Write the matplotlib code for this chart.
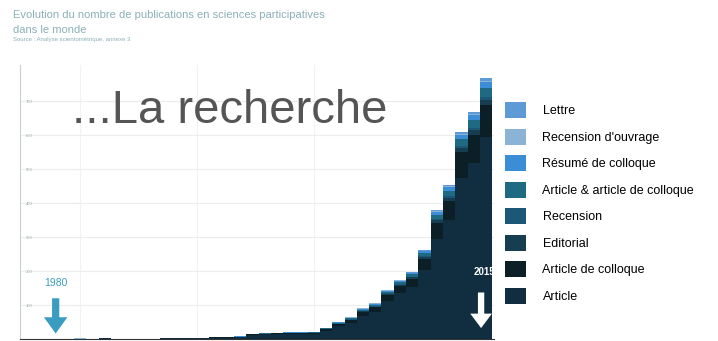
import matplotlib
matplotlib.use('Agg')
import numpy as np
import matplotlib.pyplot as plt
from matplotlib import font_manager

# --- Data ---
years = list(range(1977, 2016))

article = [0, 0, 0, 0, 1, 1, 0, 2, 1, 0,
           0, 1, 2, 3, 2, 3, 4, 4, 6, 12,
           14, 14, 15, 15, 16, 25, 37, 48, 68, 80,
           112, 136, 153, 203, 295, 350, 475, 519, 594]
article_colloque = [0, 0, 0, 0, 0, 0, 0, 0, 0, 0,
                    1, 0, 0, 0, 1, 1, 1, 1, 1, 2,
                    2, 3, 3, 3, 3, 4, 6, 8, 11, 13,
                    17, 21, 24, 32, 46, 56, 75, 82, 95]
editorial = [0, 0, 0, 0, 0, 0, 0, 0, 0, 0,
             0, 0, 0, 0, 0, 0, 0, 0, 0, 0,
             0, 0, 0, 0, 0, 1, 1, 1, 2, 2,
             3, 3, 4, 5, 8, 9, 12, 13, 15]
recension = [0, 0, 0, 0, 0, 0, 0, 0, 0, 0,
             0, 0, 0, 0, 0, 0, 0, 0, 0, 0,
             0, 0, 0, 0, 0, 0, 1, 1, 1, 1,
             2, 2, 2, 3, 4, 5, 6, 7, 8]
article_et_colloque = [0, 0, 0, 0, 0, 0, 0, 0, 0, 0,
                       0, 0, 0, 0, 0, 0, 0, 0, 0, 1,
                       1, 1, 1, 1, 1, 1, 2, 3, 4, 5,
                       5, 6, 7, 9, 13, 16, 20, 22, 26]
resume_colloque = [0, 0, 0, 0, 0, 0, 0, 0, 0, 0,
                   0, 0, 0, 0, 0, 0, 0, 0, 1, 1,
                   1, 1, 1, 1, 1, 1, 2, 2, 3, 3,
                   3, 4, 4, 6, 8, 10, 13, 15, 18]
recension_ouvrage = [0, 0, 0, 0, 0, 1, 0, 0, 0, 0,
                     0, 0, 0, 0, 0, 0, 0, 0, 0, 0,
                     0, 0, 0, 0, 0, 0, 0, 1, 1, 1,
                     1, 1, 1, 2, 2, 3, 3, 4, 4]
lettre = [0, 0, 0, 0, 0, 0, 0, 0, 0, 0,
          0, 0, 0, 0, 0, 0, 0, 0, 0, 0,
          0, 0, 0, 0, 0, 0, 1, 1, 1, 1,
          1, 1, 2, 2, 3, 4, 5, 6, 8]

# stacking order, bottom to top
series = [
    ("Article", article, "#112e40"),
    ("Article de colloque", article_colloque, "#0c1f27"),
    ("Editorial", editorial, "#173e50"),
    ("Recension", recension, "#1b5878"),
    ("Article & article de colloque", article_et_colloque, "#1e6a82"),
    ("Résumé de colloque", resume_colloque, "#3b8ed6"),
    ("Recension d'ouvrage", recension_ouvrage, "#8bb3d6"),
    ("Lettre", lettre, "#5e9bd6"),
]

y_ticks = [100, 200, 300, 400, 500, 600, 700]

plt.rcParams['font.family'] = ['Liberation Sans', 'DejaVu Sans']

try:
    font_manager.findfont('Liberation Sans Narrow', fallback_to_default=False)
    leg_family, leg_size = 'Liberation Sans Narrow', 11.5
except ValueError:
    leg_family, leg_size = 'Liberation Sans', 9

fig = plt.figure(figsize=(7.18, 3.41), dpi=100)
ax = fig.add_axes([20 / 718, 2 / 341, 474 / 718, 274 / 341])

bottom = np.zeros(len(years))
handles = []
for name, vals, col in series:
    b = ax.bar(years, vals, width=1.0, bottom=bottom, color=col,
               edgecolor='none', label=name, zorder=3)
    handles.append(b)
    bottom += np.array(vals)

ax.set_xlim(1977.1, 2015.65)
ax.set_ylim(0, 806)
ax.set_yticks(y_ticks)
ax.set_yticklabels([str(v) for v in y_ticks])
ax.tick_params(axis='y', length=0, pad=-9, labelsize=3, colors='#9aa6ad')
ax.set_xticks([])
ax.grid(axis='y', color='#ececec', lw=0.8, zorder=0)
for xv in [1982, 1991.5, 2001]:
    ax.axvline(xv, color='#f2f2f2', lw=0.8, zorder=0)
for s in ['top', 'right']:
    ax.spines[s].set_visible(False)
ax.spines['left'].set_color('#c8cfd3')
ax.spines['bottom'].set_color('#333333')

# annotations
ax.text(1980, 165, "1980", color='#3a9cc0', fontsize=7.5, ha='center', va='center',
        zorder=5)
ax.annotate('', xy=(1980, 8), xytext=(1980, 128),
            arrowprops=dict(arrowstyle='simple,head_width=1.3,head_length=0.9,tail_width=0.4',
                            color='#3a9cc0', mutation_scale=13, lw=0), zorder=5)
ax.text(2014.9, 197, "2015", color='white', fontsize=7, ha='center', va='center',
        fontweight='bold', zorder=5)
ax.annotate('', xy=(2014.6, 24), xytext=(2014.6, 145),
            arrowprops=dict(arrowstyle='simple,head_width=1.2,head_length=0.8,tail_width=0.35',
                            color='white', mutation_scale=13, lw=0), zorder=5)

# titles
fig.text(13 / 718, 1 - 15 / 341, "Evolution du nombre de publications en sciences participatives",
         color='#8ab0b8', fontsize=8, va='center')
fig.text(13 / 718, 1 - 30 / 341, "dans le monde", color='#8ab0b8', fontsize=8,
         va='center')
fig.text(13 / 718, 1 - 40 / 341, "Source : Analyse scientométrique, annexe 3",
         color='#8ab0b8', fontsize=4.3, va='center')

fig.text(72 / 718, 1 - 123 / 341, "...La recherche", color='#555555', fontsize=34,
         va='baseline')

fig.legend(handles[::-1], [s[0] for s in series[::-1]],
           loc='upper left', bbox_to_anchor=(505 / 718, 1 - 102 / 341),
           frameon=False, handlelength=1.7, handleheight=1.6,
           labelspacing=0.84, handletextpad=1.3, borderpad=0,
           borderaxespad=0, prop={'family': leg_family, 'size': leg_size})

fig.savefig('out.png', dpi=100)
